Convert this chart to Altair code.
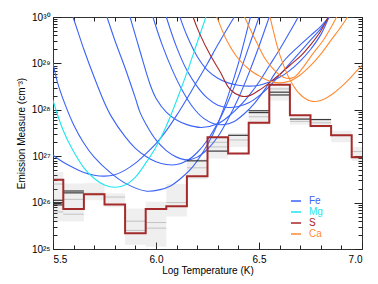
import math
import altair as alt
import pandas as pd

# ---------------- data ----------------
bins = [5.5, 5.6, 5.7, 5.8, 5.9, 6.0, 6.1, 6.2, 6.3, 6.4, 6.5, 6.6, 6.7, 6.8, 6.9, 7.0]
dem = [26.49, 25.86, 26.18, 25.96, 25.34, 25.86, 25.92, 26.57, 27.41, 27.06, 27.72, 28.54, 27.88, 27.65, 27.45, 26.98]
mc_hi = [26.66, 26.41, 26.42, 26.20, 25.87, 26.02, 26.40, 26.95, 27.40, 27.50, 28.00, 28.50, 27.85, 27.80, 27.55, 27.20]
mc_lo = [25.60, 25.59, 26.05, 25.90, 25.09, 25.05, 25.70, 26.50, 26.95, 27.20, 27.68, 28.20, 27.68, 27.62, 27.30, 26.90]

gray_bin = [5.5, 5.5, 5.6, 5.6, 5.7, 5.8, 5.9, 5.9, 6.0, 6.0, 6.1, 6.2, 6.3, 6.3, 6.4, 6.5, 6.6, 6.7, 6.8, 6.9, 7.0]
gray_val = [26.40, 25.80, 26.07, 25.75, 26.20, 26.12, 25.60, 25.40, 25.57, 25.45, 26.00, 26.75, 27.20, 27.30, 27.35, 27.85, 28.45, 27.75, 27.72, 27.45, 27.10]

best_bin = [5.5, 5.5, 5.5, 5.6, 5.6, 6.2, 6.3, 6.4, 6.5, 6.5, 6.6, 6.6, 6.7, 6.8]
best_val = [26.05, 26.00, 25.95, 26.25, 26.21, 26.90, 27.11, 27.45, 27.98, 27.94, 28.38, 28.32, 27.80, 27.79]

elements = ["Fe", "Mg", "S", "Ca"]
colors = ["#3b63f7", "#1ee6ee", "#a8252a", "#ff8a33"]

fe_curves = [
    ([5.47, 5.5, 5.52, 5.56, 5.6, 5.65, 5.7, 5.78, 5.85, 5.95, 6.02, 6.07, 6.12, 6.18, 6.25, 6.3, 6.35, 6.4, 6.45, 6.47],
     [29.5, 29.0, 28.62, 28.1, 27.68, 27.28, 26.98, 26.64, 26.42, 26.25, 26.28, 26.36, 26.52, 26.78, 27.25, 27.7, 28.3, 29.0, 29.85, 30.2]),
    ([5.45, 5.5, 5.55, 5.6, 5.65, 5.7, 5.75, 5.8, 5.85, 5.9, 5.95, 6.0, 6.05, 6.1, 6.15, 6.2, 6.25, 6.3, 6.35, 6.38],
     [27.2, 27.02, 26.87, 26.75, 26.65, 26.59, 26.57, 26.6, 26.7, 26.85, 27.05, 27.27, 27.55, 27.88, 28.24, 28.62, 29.0, 29.4, 29.78, 30.0]),
    ([5.58, 5.597, 5.65, 5.7, 5.75, 5.78, 5.85, 5.9, 5.95, 6.0, 6.05, 6.1, 6.15, 6.2, 6.25, 6.3, 6.35, 6.4, 6.45, 6.5, 6.51],
     [30.2, 30.0, 29.3, 28.7, 28.15, 27.88, 27.42, 27.17, 27.0, 26.88, 26.82, 26.82, 26.9, 27.08, 27.35, 27.72, 28.18, 28.72, 29.35, 30.0, 30.15]),
    ([5.75, 5.762, 5.8, 5.85, 5.9, 5.922, 5.95, 6.0, 6.05, 6.1, 6.15, 6.2, 6.25, 6.3, 6.35, 6.4, 6.45, 6.5, 6.55, 6.56],
     [30.15, 30.0, 29.5, 28.9, 28.25, 27.95, 27.7, 27.35, 27.12, 26.98, 26.92, 26.98, 27.15, 27.42, 27.8, 28.25, 28.78, 29.37, 30.0, 30.12]),
    ([5.86, 5.874, 5.92, 5.971, 6.0, 6.05, 6.1, 6.15, 6.22, 6.3, 6.35, 6.4, 6.45, 6.5, 6.55, 6.6, 6.65, 6.69, 6.7],
     [30.2, 30.0, 29.3, 28.55, 28.25, 27.95, 27.78, 27.68, 27.62, 27.7, 27.85, 28.05, 28.3, 28.6, 28.95, 29.3, 29.68, 30.0, 30.1]),
    ([5.975, 5.985, 6.03, 6.08, 6.13, 6.18, 6.23, 6.28, 6.33, 6.38, 6.43, 6.48, 6.53, 6.58, 6.63, 6.7, 6.75, 6.8, 6.84],
     [30.15, 30.0, 29.4, 28.85, 28.4, 28.05, 27.82, 27.7, 27.68, 27.75, 27.92, 28.15, 28.45, 28.8, 29.1, 29.4, 29.6, 29.8, 30.0]),
    ([6.04, 6.05, 6.1, 6.15, 6.2, 6.25, 6.3, 6.35, 6.4, 6.45, 6.5, 6.55, 6.6, 6.65, 6.7, 6.75, 6.8, 6.84],
     [30.15, 30.0, 29.35, 28.85, 28.5, 28.25, 28.1, 28.05, 28.07, 28.15, 28.3, 28.5, 28.75, 29.0, 29.25, 29.5, 29.75, 30.0]),
    ([6.105, 6.116, 6.15, 6.2, 6.25, 6.3, 6.35, 6.4, 6.45, 6.5, 6.55, 6.6, 6.65, 6.7, 6.75, 6.8, 6.84],
     [30.15, 30.0, 29.6, 29.15, 28.85, 28.68, 28.58, 28.53, 28.51, 28.53, 28.6, 28.7, 28.85, 29.05, 29.3, 29.62, 30.0]),
]
mg_curves = [
    ([5.45, 5.5, 5.55, 5.6, 5.65, 5.7, 5.75, 5.8, 5.85, 5.9, 5.95, 6.0, 6.05, 6.1, 6.15, 6.2, 6.25],
     [29.0, 28.2, 27.55, 27.1, 26.75, 26.52, 26.38, 26.33, 26.38, 26.55, 26.85, 27.2, 27.65, 28.2, 28.8, 29.45, 30.1]),
]
s_curves = [
    ([6.17, 6.18, 6.214, 6.262, 6.31, 6.36, 6.41, 6.45, 6.5, 6.55, 6.6, 6.65, 6.7, 6.75, 6.8, 6.836, 6.85],
     [30.15, 30.0, 29.62, 29.19, 28.83, 28.44, 28.3, 28.3, 28.42, 28.58, 28.76, 28.96, 29.15, 29.4, 29.7, 30.0, 30.12]),
]
ca_curves = [
    ([6.28, 6.295, 6.343, 6.4, 6.45, 6.505, 6.55, 6.6, 6.65, 6.7, 6.75, 6.8, 6.85, 6.9, 6.93],
     [30.15, 30.0, 29.5, 29.1, 28.88, 28.72, 28.62, 28.58, 28.62, 28.75, 28.95, 29.2, 29.5, 29.8, 30.0]),
    ([6.41, 6.43, 6.489, 6.53, 6.561, 6.6, 6.634, 6.67, 6.715, 6.76, 6.812, 6.85, 6.877, 6.89],
     [30.2, 30.0, 29.45, 29.1, 28.92, 28.75, 28.68, 28.7, 28.92, 29.2, 29.5, 29.78, 30.0, 30.1]),
    ([6.54, 6.553, 6.6, 6.65, 6.7, 6.75, 6.8, 6.85, 6.9, 6.95, 7.0, 7.05],
     [30.2, 30.0, 29.2, 28.65, 28.33, 28.19, 28.2, 28.32, 28.5, 28.72, 28.96, 29.2]),
]

x_major = [5.5, 6.0, 6.5, 7.0]
x_minor = [5.6, 5.7, 5.8, 5.9, 6.1, 6.2, 6.3, 6.4, 6.6, 6.7, 6.8, 6.9]
y_major = [25, 26, 27, 28, 29, 30]
y_minor = [d + math.log10(k) for d in range(25, 30) for k in range(2, 10)]

# ---------------- tables ----------------
hist_df = pd.DataFrame({"t": bins, "em": dem, "lo": mc_lo, "hi": mc_hi})
gray_df = pd.DataFrame({"t": gray_bin, "em": gray_val})
best_df = pd.DataFrame({"t": best_bin, "em": best_val})

rows = []
cid = 0
for el, group in zip(elements, [fe_curves, mg_curves, s_curves, ca_curves]):
    for ts, ems in group:
        for t, e in zip(ts, ems):
            rows.append({"t": t, "em": e, "element": el, "cid": cid})
        cid += 1
curve_df = pd.DataFrame(rows)

FONT = "Liberation Sans"
W, H = 309, 232
xs = alt.Scale(domain=[5.5, 7.0], nice=False, zero=False)
ys = alt.Scale(domain=[25, 30], nice=False, zero=False)


def tick_axis(orient, values, length):
    return alt.Axis(orient=orient, values=values, labels=False, domain=False, grid=False,
                    ticks=True, tickSize=length, offset=-length, tickColor="#222",
                    tickWidth=1, title=None)


sup = "['\u00b2\u2075','\u00b2\u2076','\u00b2\u2077','\u00b2\u2078','\u00b2\u2079','\u00b3\u2070']"

bands = alt.Chart(hist_df).transform_calculate(
    t0="datum.t - 0.05", t1="datum.t + 0.05"
).mark_rect(color="#9a9a9a", opacity=0.16, clip=True).encode(
    x=alt.X("t0:Q", scale=xs, axis=alt.Axis(orient="bottom", values=x_major, format=".1f",
            ticks=False, tickSize=0, domain=False, grid=False, labelPadding=5,
            labelFont=FONT, labelFontSize=10, labelColor="#000",
            title="Log Temperature (K)", titleFont=FONT, titleFontSize=10,
            titleFontWeight="normal", titleColor="#000", titleX=W / 2, titleY=21,
            titleBaseline="middle")),
    x2="t1:Q",
    y=alt.Y("lo:Q", scale=ys, axis=alt.Axis(orient="left", values=y_major,
            labelExpr="'10' + " + sup + "[round(datum.value) - 25]",
            ticks=False, tickSize=0, domain=False, grid=False, labelPadding=3,
            labelFont=FONT, labelFontSize=10, labelColor="#000", labelBaseline="middle",
            title="Emission Measure (cm\u207b\u00b3)", titleFont=FONT, titleFontSize=10,
            titleFontWeight="normal", titleColor="#000", titleX=-32, titleY=H / 2,
            titleBaseline="middle", titleAngle=270)),
    y2="hi:Q",
)

gray_lines = alt.Chart(gray_df).transform_calculate(
    t0="datum.t - 0.05", t1="datum.t + 0.05"
).mark_rule(color="#8c8c8c", opacity=0.45, strokeWidth=1, clip=True).encode(
    x=alt.X("t0:Q", scale=xs, axis=tick_axis("bottom", x_major, 7)),
    x2="t1:Q",
    y=alt.Y("em:Q", scale=ys, axis=tick_axis("left", y_major, 8)),
)

best_lines = alt.Chart(best_df).transform_calculate(
    t0="datum.t - 0.05", t1="datum.t + 0.05"
).mark_rule(color="#1a1a1a", opacity=0.85, strokeWidth=1.2, clip=True).encode(
    x=alt.X("t0:Q", scale=xs, axis=tick_axis("bottom", x_minor, 4)),
    x2="t1:Q",
    y=alt.Y("em:Q", scale=ys, axis=tick_axis("left", y_minor, 4)),
)

curves = alt.Chart(curve_df).mark_line(interpolate="catmull-rom", strokeWidth=1.1, clip=True).encode(
    x=alt.X("t:Q", scale=xs, axis=tick_axis("top", x_major, 7)),
    y=alt.Y("em:Q", scale=ys, axis=tick_axis("right", y_major, 8)),
    color=alt.Color("element:N", scale=alt.Scale(domain=elements, range=colors),
                    legend=alt.Legend(title=None, orient="none", legendX=237, legendY=178,
                                      symbolType="stroke", symbolSize=100, symbolStrokeWidth=1.5,
                                      labelFont=FONT, labelFontSize=10, labelOffset=7,
                                      rowPadding=0, padding=0,
                                      labelColor={"expr": "scale('color', datum.value)"})),
    detail="cid:N",
    order="t:Q",
)

hist = alt.Chart(hist_df).mark_line(interpolate="step", color="#a52a2a", strokeWidth=2, clip=True).encode(
    x=alt.X("t:Q", scale=xs, axis=tick_axis("top", x_minor, 4)),
    y=alt.Y("em:Q", scale=ys, axis=tick_axis("right", y_minor, 4)),
)

chart = alt.layer(bands, curves, gray_lines, best_lines, hist).resolve_axis(
    x="independent", y="independent"
).properties(
    width=W, height=H, autosize="none",
    padding={"left": 45, "top": 9, "right": 8, "bottom": 27},
).configure_view(stroke="#333", strokeWidth=1)

chart.save("out.html", embed_options={"renderer": "svg", "actions": False})
